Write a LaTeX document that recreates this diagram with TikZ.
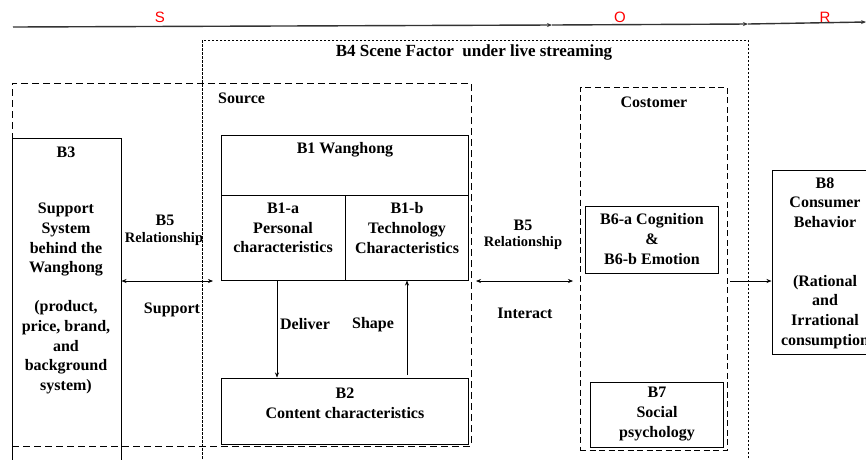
\documentclass[tikz,border=0pt]{standalone}
\usepackage{fontspec}
\setmainfont{Liberation Serif}
\setsansfont{Liberation Sans}
\usetikzlibrary{arrows.meta,fit}
\begin{document}
\begin{tikzpicture}[x=1pt,y=-1pt,
  box/.style={draw,line width=1pt,inner sep=0pt},
  txt/.style={font=\bfseries\fontsize{16}{19.6}\selectfont,align=center,inner sep=0pt},
  small/.style={font=\bfseries\fontsize{14.5}{18}\selectfont,align=center,inner sep=0pt},
  sor/.style={font=\sffamily\fontsize{15}{16}\selectfont,text=red,inner sep=0pt},
  topline/.style={line width=1.4pt,black!80,-{Stealth[length=5pt,width=4pt]}},
  arr/.style={-{Stealth[length=5pt,width=4pt]},line width=0.6pt},
  darr/.style={{Stealth[length=5pt,width=4pt]}-{Stealth[length=5pt,width=4pt]},line width=0.6pt},
  dotbox/.style={draw,line width=0.8pt,dash pattern=on 2.5pt off 1.5pt,inner sep=0pt},
  dashbox/.style={draw,line width=1pt,dash pattern=on 7pt off 4pt,inner sep=0pt}]
\useasboundingbox (0,0) rectangle (866,459);
\clip (0,0) rectangle (866,459);

% top S-O-R line
\coordinate (l0) at (13,27);
\coordinate (l1) at (552,25);
\coordinate (l2) at (748,24);
\coordinate (l3) at (866,22);
\draw[topline] (l0) -- (l1);
\draw[topline] (l1) -- (l2);
\draw[topline] (l2) -- (l3);
\node[sor] (s) at (160,17) {S};
\node[sor] (o) at (620,17) {O};
\node[sor] (r) at (825,17) {R};

% frames
\node[dotbox,fit={(202,40)(748,480)}] (b4) {};
\node[txt,font=\bfseries\fontsize{17}{19.6}\selectfont] (b4t) at (474,52) {B4 Scene Factor\ \ under live streaming};
\node[dashbox,fit={(12,83)(471,446)}] (src) {};
\node[txt,anchor=west] (srct) at (218,98) {Source};
\node[dashbox,dash pattern=on 6pt off 3.5pt,line width=0.9pt,fit={(580,87)(727,450)}] (cus) {};
\node[txt] (cust) at (654,102) {Costomer};

% B3
\node[box,fit={(12,138)(121,480)}] (b3) {};
\node[txt] (b3t) at (66,152) {B3};
\node[txt] (b3b) at (66,298.5) {Support\\System\\behind the\\Wanghong\\[19.6pt](product,\\price, brand,\\and\\background\\system)};

% B1
\node[box,fit={(221,135)(468,195)}] (b1) {};
\node[txt] (b1t) at (345,150) {B1 Wanghong};
\node[box,fit={(221,195)(345,280)}] (b1a) {};
\node[box,fit={(345,195)(468,280)}] (b1b) {};
\node[txt] (b1at) at (283,228) {B1-a\\Personal\\characteristics};
\node[txt] (b1bt) at (407,228) {B1-b\\Technology\\Characteristics};

% B2
\node[box,fit={(221,378)(468,444)}] (b2) {};
\node[txt] (b2t) at (345,403) {B2\\Content characteristics};

% Deliver / Shape
\draw[arr] (277,0 |- b1a.south) -- (277,0 |- b2.north);
\coordinate (sh0) at (407,375);
\draw[arr] (sh0) -- (407,0 |- b1b.south);
\node[txt] (deliver) at (305,324) {Deliver};
\node[txt] (shape) at (373,325) {Shape};

% B5 left
\coordinate (sup1) at (213,281);
\draw[darr] (b3.east |- sup1) -- (sup1);
\node[txt] (b5l) at (165,220) {B5};
\node[small] (b5lr) at (164,239) {Relationship};
\node[txt] (support) at (172,310) {Support};

% B5 right
\coordinate (in0) at (476,281);
\coordinate (in1) at (573,281);
\draw[darr] (in0) -- (in1);
\node[txt] (b5r) at (523,225) {B5};
\node[small] (b5rr) at (523,243) {Relationship};
\node[txt] (interact) at (525,313) {Interact};

% B6, B7
\node[box,fit={(585,206)(718,273)}] (b6) {};
\node[txt] (b6t) at (652,239) {B6-a Cognition\\\&\\B6-b Emotion};
\node[box,fit={(590,382)(723,447)}] (b7) {};
\node[txt] (b7t) at (657,414) {B7\\Social\\psychology};

% B8
\node[box,fit={(772,170)(880,354)}] (b8) {};
\node[txt] (b8t) at (825,263) {B8\\Consumer\\Behavior\\[39.2pt](Rational\\and\\Irrational\\consumption};
\coordinate (c0) at (730,281);
\draw[arr] (c0) -- (b8.west |- c0);
\end{tikzpicture}
\end{document}
